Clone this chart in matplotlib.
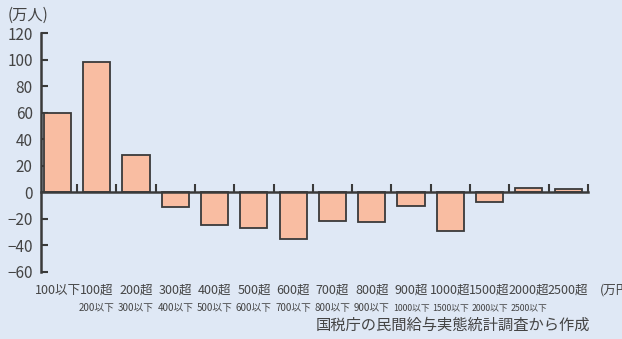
import matplotlib
matplotlib.use("Agg")
import matplotlib.pyplot as plt
import matplotlib.transforms as mtransforms

# ---- data ----
line1_labels = ["100以下", "100超", "200超", "300超", "400超", "500超", "600超",
                "700超", "800超", "900超", "1000超", "1500超", "2000超", "2500超"]
line2_labels = ["", "200以下", "300以下", "400以下", "500以下", "600以下", "700以下",
                "800以下", "900以下", "1000以下", "1500以下", "2000以下", "2500以下", ""]
values = [60, 98, 28, -11, -25, -27, -35.5, -22, -22.5, -10, -29, -7, 3, 2.5]
y_ticks = [-60, -40, -20, 0, 20, 40, 60, 80, 100, 120]

BG = "#dfe8f5"
BAR = "#f9bda2"
DARK = "#3a3a3a"
TXT = "#444444"
FAM = ["Liberation Sans Narrow", "Noto Sans CJK JP", "DejaVu Sans"]
FAM_CJK = ["Noto Sans CJK JP", "DejaVu Sans"]

fig = plt.figure(figsize=(6.22, 3.39), dpi=100, facecolor=BG)
ax = fig.add_axes([0.0659, 0.198, 0.945 - 0.0659, 0.9024 - 0.198])
ax.set_facecolor(BG)

x = list(range(len(values)))
ax.bar(x, values, width=0.69, color=BAR, edgecolor=DARK, linewidth=1.3, zorder=2)

ax.set_xlim(-0.42, len(values) - 0.5)
ax.set_ylim(-60, 120)

for s in ["top", "right"]:
    ax.spines[s].set_visible(False)
ax.spines["bottom"].set_position(("data", 0))
ax.spines["bottom"].set_color(DARK)
ax.spines["bottom"].set_linewidth(1.8)
ax.spines["bottom"].set_zorder(3)
ax.spines["left"].set_color(DARK)
ax.spines["left"].set_linewidth(1.8)

ax.set_yticks(y_ticks)
ax.set_yticklabels([("\u2212" + str(-v)) if v < 0 else str(v) for v in y_ticks])
ax.tick_params(axis="y", direction="in", length=5, width=1.5, color=DARK,
               pad=6, labelsize=11, labelcolor=TXT)
for lab in ax.get_yticklabels():
    lab.set_family(FAM)

ax.set_xticks([i + 0.5 for i in range(len(values))])
ax.set_xticklabels([])
ax.tick_params(axis="x", direction="in", length=6, width=1.5, color=DARK)

trans = mtransforms.blended_transform_factory(ax.transData, fig.transFigure)
for i, (a, b) in enumerate(zip(line1_labels, line2_labels)):
    ax.text(i, 0.1445, a, transform=trans, ha="center", va="center",
            fontsize=9, color=TXT, family=FAM)
    if b:
        fs = 6.3 if len(b) > 5 else 7
        ax.text(i, 0.0914, b, transform=trans, ha="center", va="center",
                fontsize=fs, color=TXT, family=FAM)

fig.text(600 / 622, 0.1445, "(万円)", ha="left", va="center", fontsize=9,
         color=TXT, family=FAM_CJK)
fig.text(8 / 622, 0.955, "(万人)", ha="left", va="center", fontsize=11,
         color=TXT, family=FAM_CJK)
fig.text(590 / 622, 0.041, "国税庁の民間給与実態統計調査から作成", ha="right",
         va="center", fontsize=11, color=TXT, family=FAM_CJK)

fig.savefig("out.png", dpi=100, facecolor=BG)
